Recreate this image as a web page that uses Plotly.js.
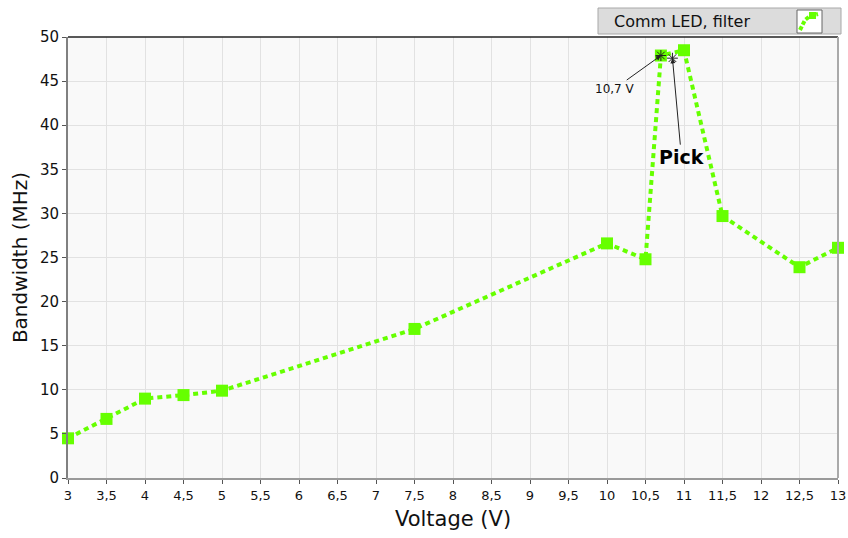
<!DOCTYPE html>
<html><head><meta charset="utf-8">
<script src="https://cdn.plot.ly/plotly-3.0.1.min.js"></script>
<style>html,body{margin:0;padding:0;background:#fff;}#chart{width:848px;height:538px;}</style>
</head><body><div id="chart"></div>
<script>
const voltage = [3, 3.5, 4, 4.5, 5, 7.5, 10, 10.5, 10.7, 11, 11.5, 12.5, 13];
const bandwidth = [4.5, 6.7, 9.0, 9.4, 9.9, 16.9, 26.6, 24.8, 47.9, 48.5, 29.7, 23.9, 26.1];
const seriesName = "Comm LED, filter";
const xTicks = [3,3.5,4,4.5,5,5.5,6,6.5,7,7.5,8,8.5,9,9.5,10,10.5,11,11.5,12,12.5,13];
const peakLabel = "10,7 V";
const peakX = 10.7, peakY = 47.9;
const pickLabel = "Pick";
const pickX = 10.85, pickY = 47.6;
const cursorX = [peakX, pickX];
const cursorY = [peakY, pickY];

const green = "#66ff00";
const font = "DejaVu Sans, Verdana, sans-serif";
const W = 848, H = 538;
const M = {l: 68, r: 10, t: 37, b: 60};
const PW = W - M.l - M.r, PH = H - M.t - M.b;
const px = v => (v - M.l) / PW, py = v => (H - M.b - v) / PH;

const trace = {
  x: voltage, y: bandwidth, name: seriesName, type: "scatter", mode: "lines+markers",
  line: {color: green, width: 4, dash: "5px,4px"},
  marker: {symbol: "square", size: 12, color: green},
  cliponaxis: false, showlegend: false
};
const cursors = {
  x: cursorX, y: cursorY, type: "scatter", mode: "markers", showlegend: false,
  marker: {symbol: "asterisk-open", size: 9, color: "#222", line: {color: "#222", width: 1}}
};

const layout = {
  width: W, height: H,
  margin: {l: M.l, r: M.r, t: M.t, b: M.b, autoexpand: false},
  paper_bgcolor: "#ffffff",
  plot_bgcolor: "#f9f9f9",
  separators: ", ",
  showlegend: false,
  xaxis: {
    range: [3, 13], tickvals: xTicks, ticktext: xTicks.map(v => String(v).replace(".", ",")),
    showgrid: true, gridcolor: "#e2e2e2", gridwidth: 1,
    zeroline: false, showline: true, linecolor: "#9a9a9a", linewidth: 2,
    ticks: "outside", ticklen: 4, tickcolor: "#555", tickwidth: 1,
    tickfont: {family: font, size: 13, color: "#111"},
    title: {text: "Voltage (V)", font: {family: font, size: 21, color: "#111"}, standoff: 10}
  },
  yaxis: {
    range: [0, 50], dtick: 5, tick0: 0,
    showgrid: true, gridcolor: "#e2e2e2", gridwidth: 1,
    zeroline: false, showline: true, linecolor: "#808080", linewidth: 2,
    ticks: "outside", ticklen: 4, tickcolor: "#555", tickwidth: 1,
    tickfont: {family: font, size: 15, color: "#111"},
    title: {text: "Bandwidth (MHz)", font: {family: font, size: 20, color: "#111"}, standoff: 7}
  },
  shapes: [
    {type: "line", xref: "paper", yref: "paper", x0: 0, x1: 1, y0: 1, y1: 1, line: {color: "#222", width: 1.5}},
    {type: "line", xref: "paper", yref: "paper", x0: 1, x1: 1, y0: 0, y1: 1, line: {color: "#aaaaaa", width: 2}},
    // legend box
    {type: "rect", xref: "paper", yref: "paper", x0: px(598), x1: px(841), y0: py(8), y1: py(34),
     fillcolor: "#dcdcdc", line: {color: "#a8a8a8", width: 1}, layer: "above"},
    {type: "rect", xref: "paper", yref: "paper", x0: px(797), x1: px(822), y0: py(10), y1: py(33),
     fillcolor: "#ffffff", line: {color: "#666", width: 1}, layer: "above"},
    {type: "path", xref: "paper", yref: "paper",
     path: `M ${px(800)},${py(30)} L ${px(805)},${py(20)} L ${px(810)},${py(16)} L ${px(818)},${py(14)}`,
     line: {color: green, width: 4, dash: "4px,2px"}, layer: "above"},
    {type: "rect", xref: "paper", yref: "paper", x0: px(809), x1: px(816), y0: py(12), y1: py(19),
     fillcolor: green, line: {width: 0}, layer: "above"}
  ],
  annotations: [
    {xref: "paper", yref: "paper", x: px(612), y: py(21), xanchor: "left", yanchor: "middle",
     text: seriesName, showarrow: false, font: {family: font, size: 16, color: "#111"}},
    {x: peakX, y: peakY, xref: "x", yref: "y", text: peakLabel, showarrow: true,
     arrowhead: 2, arrowsize: 1, arrowwidth: 1, arrowcolor: "#222",
     ax: -46, ay: 33, font: {family: font, size: 12, color: "#111"}},
    {x: pickX, y: pickY, xref: "x", yref: "y", text: "<b>" + pickLabel + "</b>", showarrow: true,
     arrowhead: 2, arrowsize: 1, arrowwidth: 1, arrowcolor: "#222",
     ax: 9, ay: 99, font: {family: font, size: 19, color: "#000"}}
  ]
};

Plotly.newPlot("chart", [trace, cursors], layout, {displayModeBar: false, staticPlot: true});
</script></body></html>
